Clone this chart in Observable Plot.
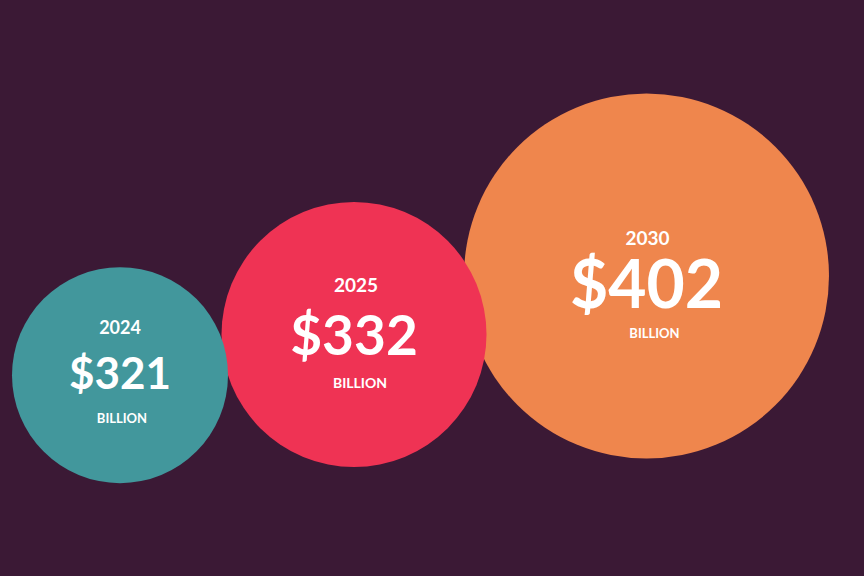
<!DOCTYPE html>
<html>
<head>
<meta charset="utf-8">
<script src="https://cdn.jsdelivr.net/npm/d3@7"></script>
<script src="https://cdn.jsdelivr.net/npm/@observablehq/plot@0.6"></script>
<style>
  html, body { margin: 0; padding: 0; background: #3b1935; }
  #chart svg { display: block; }
</style>
</head>
<body>
<div id="chart"></div>
<script>
const years = [2024, 2025, 2030];
const values = [321, 332, 402];
const unitLabel = ["BILLION", "BILLION", "BILLION"];
const colors = ["#42979c", "#ef3354", "#ef864d"];

const data = years.map((y, i) => ({year: y, value: values[i], unit: unitLabel[i], color: colors[i]}));

// per-circle typography (style, not data)
const valueFont = [44, 55, 66];
const yearFont = [18, 19, 19];
const unitFont = [13, 14, 13];
const yearDy = [-47, -49, -37];
const valueDy = [0, 3, 11];
const unitDy = [44, 49, 57.5];
const unitDx = [2, 6, 8];
const yearDx = [0, 2, 1];

const font = "Lato, 'Open Sans', sans-serif";

const textMarks = [];
data.forEach((d, i) => {
  const one = [d];
  textMarks.push(
    Plot.text(one, {x: "year", y: "value", text: d => String(d.year), fill: "white", fontSize: yearFont[i], fontWeight: 700, dx: yearDx[i], dy: yearDy[i], fontFamily: font}),
    Plot.text(one, {x: "year", y: "value", text: d => "$" + d.value, fill: "white", fontSize: valueFont[i], fontWeight: 700, dy: valueDy[i], fontFamily: font}),
    Plot.text(one, {x: "year", y: "value", text: "unit", fill: "white", fontSize: unitFont[i], fontWeight: 700, dx: unitDx[i], dy: unitDy[i], fontFamily: font})
  );
});

const chart = Plot.plot({
  width: 864,
  height: 576,
  margin: 0,
  style: {background: "#3b1935", fontFamily: font},
  x: {type: "linear", domain: years, range: [119.5, 353.5, 646], axis: null},
  y: {type: "linear", domain: values, range: [374.7, 334, 275.5], axis: null},
  r: {type: "linear", domain: values, range: [108, 132.5, 182.5]},
  marks: [
    Plot.dot(data, {x: "year", y: "value", r: "value", fill: "color", stroke: null}),
    ...textMarks
  ]
});
document.getElementById("chart").appendChild(chart);
</script>
</body>
</html>
